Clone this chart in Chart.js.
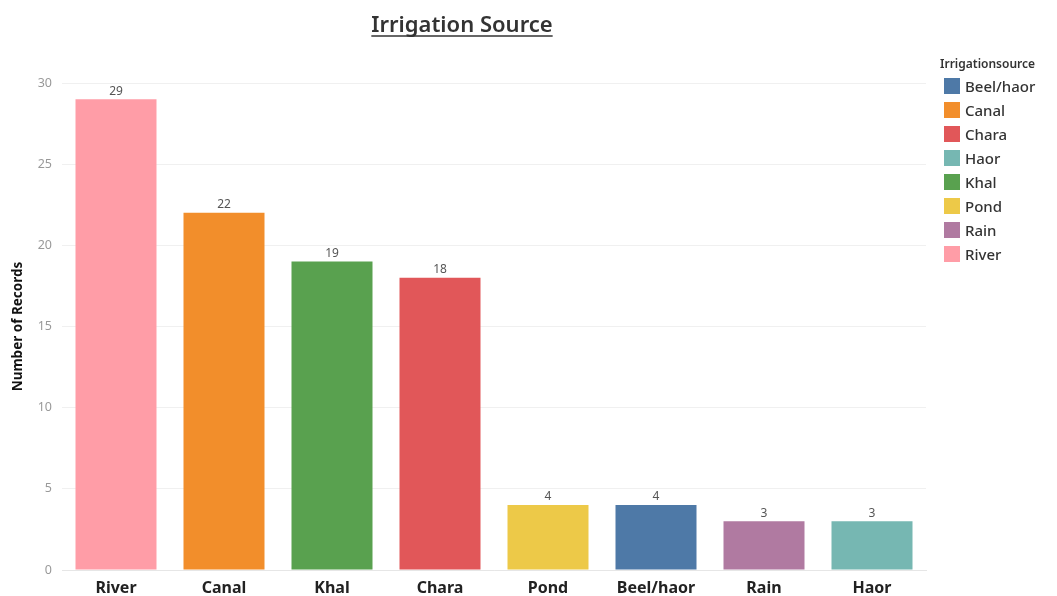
<!DOCTYPE html>
<html>
<head>
<meta charset="utf-8">
<script src="https://cdn.jsdelivr.net/npm/chart.js@4"></script>
<style>
  body { margin: 0; background: #fff; font-family: "Noto Sans", sans-serif; }
  #wrap { position: relative; width: 1057px; height: 596px; }
  #legend { position: absolute; left: 940px; top: 55px; color: #333; }
  #legend .ttl { font-size: 12px; font-weight: 600; margin-bottom: 2px; }
  #legend .row { display: flex; align-items: center; height: 24px; font-size: 15px; font-weight: 500; }
  #legend .sw { width: 16px; height: 16px; margin: 0 5px 0 4px; }
</style>
</head>
<body>
<div id="wrap">
  <canvas id="chart" width="1057" height="596"></canvas>
  <div id="legend"></div>
</div>
<script>
// bar order as drawn (sorted by count)
const categories = ['River', 'Canal', 'Khal', 'Chara', 'Pond', 'Beel/haor', 'Rain', 'Haor']
const records = [29, 22, 19, 18, 4, 4, 3, 3]
const yTicks = [0, 5, 10, 15, 20, 25, 30]

// legend order (alphabetical) and colours
const legendNames = ['Beel/haor', 'Canal', 'Chara', 'Haor', 'Khal', 'Pond', 'Rain', 'River']
const legendColors = ['#4e79a7', '#f28e2b', '#e15759', '#76b7b2', '#59a14f', '#edc948', '#b07aa1', '#ff9da7']

const colorFor = name => legendColors[legendNames.indexOf(name)]

// html legend
const legendEl = document.getElementById('legend')
legendEl.innerHTML = '<div class="ttl">Irrigationsource</div>' +
  legendNames.map((n, i) =>
    `<div class="row"><span class="sw" style="background:${legendColors[i]}"></span>${n}</div>`
  ).join('')

// title with underline
const titlePlugin = {
  id: 'underlinedTitle',
  afterDraw(chart) {
    const ctx = chart.ctx
    const text = 'Irrigation Source'
    ctx.save()
    ctx.font = '600 22px "Noto Sans"'
    ctx.fillStyle = '#333'
    ctx.textAlign = 'center'
    ctx.textBaseline = 'alphabetic'
    const cx = 462
    ctx.fillText(text, cx, 32)
    const w = ctx.measureText(text).width
    ctx.strokeStyle = '#333'
    ctx.lineWidth = 1.5
    ctx.beginPath()
    ctx.moveTo(cx - w / 2, 36)
    ctx.lineTo(cx + w / 2, 36)
    ctx.stroke()
    ctx.restore()
  }
}

// value labels above bars
const valueLabels = {
  id: 'valueLabels',
  afterDatasetsDraw(chart) {
    const ctx = chart.ctx
    const meta = chart.getDatasetMeta(0)
    ctx.save()
    ctx.font = '12px "Noto Sans"'
    ctx.fillStyle = '#555'
    ctx.textAlign = 'center'
    ctx.textBaseline = 'bottom'
    meta.data.forEach((bar, i) => {
      ctx.fillText(records[i], bar.x, bar.y - 2)
    })
    ctx.restore()
  }
}

new Chart(document.getElementById('chart'), {
  type: 'bar',
  data: {
    labels: categories,
    datasets: [{
      data: records,
      backgroundColor: categories.map(colorFor),
      categoryPercentage: 1,
      barPercentage: 0.75
    }]
  },
  options: {
    responsive: false,
    animation: false,
    layout: { padding: { top: 83, right: 131, left: 0, bottom: 0 } },
    plugins: {
      legend: { display: false },
      tooltip: { enabled: false }
    },
    scales: {
      x: {
        grid: { display: false, drawTicks: false },
        border: { color: '#e6e6e6' },
        ticks: {
          padding: 9,
          color: '#222',
          font: { family: 'Noto Sans', size: 16, weight: 'bold' }
        },
        afterFit: s => { s.height = 26 }
      },
      y: {
        min: 0,
        max: 30,
        afterBuildTicks: s => { s.ticks = yTicks.map(v => ({ value: v })) },
        grid: { color: '#f0f0f0', drawTicks: false },
        border: { display: false },
        ticks: {
          padding: 10,
          color: '#999',
          font: { family: 'Noto Sans', size: 12.5 }
        },
        title: {
          display: true,
          text: 'Number of Records',
          color: '#111',
          padding: { top: 10, bottom: 0 },
          font: { family: 'Noto Sans', size: 13.5, weight: 'bold' }
        },
        afterFit: s => { s.width = 62 }
      }
    }
  },
  plugins: [titlePlugin, valueLabels]
})
</script>
</body>
</html>
